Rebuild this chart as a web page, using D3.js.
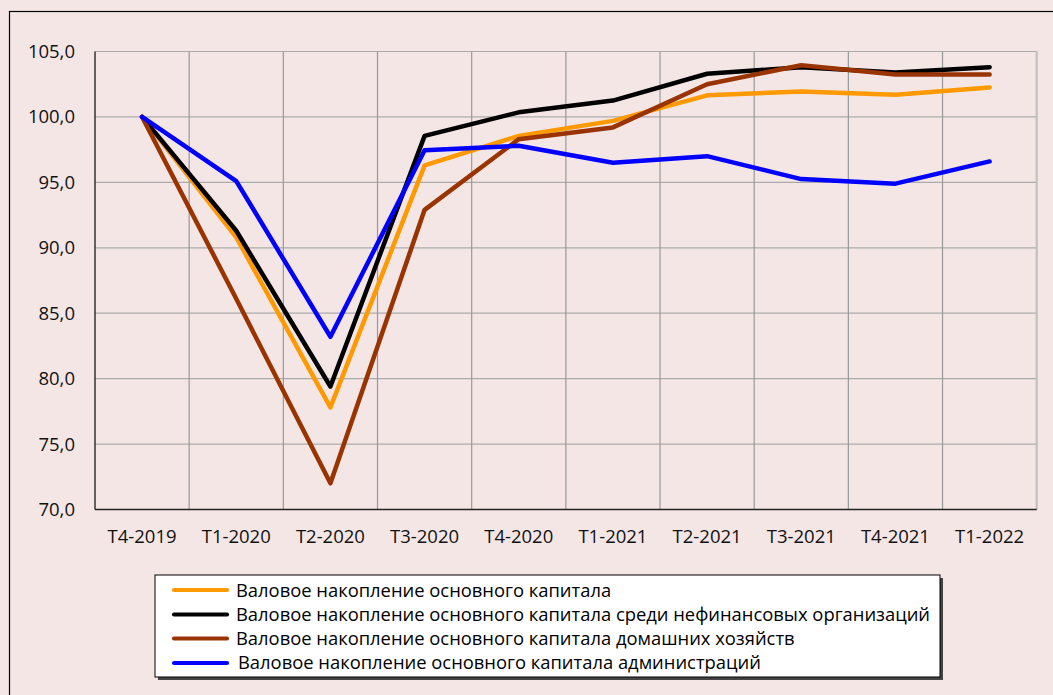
<!DOCTYPE html>
<html><head><meta charset="utf-8">
<script src="https://cdn.jsdelivr.net/npm/d3@7"></script>
<style>
html,body{margin:0;padding:0;background:#F5E6E6;}
svg{display:block;}
</style></head>
<body>
<svg id="c" width="1053" height="695"></svg>
<script>
const categories = ["T4-2019","T1-2020","T2-2020","T3-2020","T4-2020","T1-2021","T2-2021","T3-2021","T4-2021","T1-2022"];
const seriesNames = [
  "Валовое накопление основного капитала",
  "Валовое накопление основного капитала среди нефинансовых организаций",
  "Валовое накопление основного капитала домашних хозяйств",
  "Валовое накопление основного капитала администраций"
];
const totalValues      = [100, 90.8, 77.8, 96.3, 98.55, 99.7, 101.65, 101.95, 101.7, 102.25];
const nonFinValues     = [100, 91.3, 79.4, 98.55, 100.35, 101.25, 103.3, 103.8, 103.4, 103.8];
const householdValues  = [100, 86.1, 72.0, 92.9, 98.3, 99.2, 102.5, 103.95, 103.25, 103.25];
const adminValues      = [100, 95.1, 83.2, 97.45, 97.8, 96.5, 97.0, 95.25, 94.9, 96.6];
const yTicks = [70, 75, 80, 85, 90, 95, 100, 105];

const colors = ["#FF9900", "#000000", "#993300", "#0000FF"];
const series = [totalValues, nonFinValues, householdValues, adminValues];

const svg = d3.select("#c");
const FONT = "'Open Sans', 'Noto Sans', sans-serif";

// outer chart border
svg.append("rect").attr("x", 9.5).attr("y", 11.5).attr("width", 1200).attr("height", 900)
  .attr("fill", "#F5E6E6").attr("stroke", "#000").attr("stroke-width", 1.2);

const L = 95, R = 1036.7, T = 51.5, B = 509.5;
const x = d3.scaleBand().domain(categories).range([L, R]).padding(0);
const y = d3.scaleLinear().domain([70, 105]).range([B, T]);
const cx = c => x(c) + x.bandwidth() / 2;

// horizontal gridlines
svg.append("g").selectAll("line").data(yTicks.filter(v => v > 70)).join("line")
  .attr("x1", L).attr("x2", R).attr("y1", d => y(d)).attr("y2", d => y(d))
  .attr("stroke", "#ABABAB").attr("stroke-width", 1.2);
// vertical gridlines
svg.append("g").selectAll("line").data(categories.slice(1)).join("line")
  .attr("x1", d => x(d)).attr("x2", d => x(d)).attr("y1", T).attr("y2", B)
  .attr("stroke", "#999").attr("stroke-width", 1.2);
// right plot border
svg.append("line").attr("x1", R).attr("x2", R).attr("y1", T).attr("y2", B)
  .attr("stroke", "#BDBDBD").attr("stroke-width", 2);

// axes lines
svg.append("line").attr("x1", L).attr("x2", L).attr("y1", T).attr("y2", B)
  .attr("stroke", "#333").attr("stroke-width", 1.5);
svg.append("line").attr("x1", L).attr("x2", R).attr("y1", B).attr("y2", B)
  .attr("stroke", "#222").attr("stroke-width", 1.5);

// y tick labels
const fmt = v => d3.format(".1f")(v).replace(".", ",");
svg.append("g").selectAll("text").data(yTicks).join("text")
  .attr("x", 75).attr("y", d => y(d)).attr("dy", "0.35em")
  .attr("text-anchor", "end").attr("font-family", FONT).attr("font-size", 18.5)
  .attr("fill", "#111").text(fmt);
// x tick labels
svg.append("g").selectAll("text").data(categories).join("text")
  .attr("x", d => cx(d)).attr("y", 542.5)
  .attr("text-anchor", "middle").attr("font-family", FONT).attr("font-size", 18.5)
  .attr("fill", "#111").text(d => d);

// series lines
const line = d3.line().x((d, i) => cx(categories[i])).y(d => y(d));
svg.append("g").selectAll("path").data(series).join("path")
  .attr("d", d => line(d)).attr("fill", "none")
  .attr("stroke", (d, i) => colors[i]).attr("stroke-width", 4.5)
  .attr("stroke-linejoin", "round").attr("stroke-linecap", "round");

// legend
const lg = svg.append("g");
const lx = 155, ly = 575, lw = 785, lh = 102;
lg.append("rect").attr("x", lx + 3).attr("y", ly + 3).attr("width", lw).attr("height", lh).attr("fill", "#444");
lg.append("rect").attr("x", lx).attr("y", ly).attr("width", lw).attr("height", lh)
  .attr("fill", "#fff").attr("stroke", "#000").attr("stroke-width", 1);
const rowY = [590, 614.5, 638.5, 663];
const baseY = [596.7, 620.7, 645, 669.3];
seriesNames.forEach((name, i) => {
  lg.append("line").attr("x1", 174).attr("x2", 227).attr("y1", rowY[i]).attr("y2", rowY[i])
    .attr("stroke", colors[i]).attr("stroke-width", 4.2).attr("stroke-linecap", "round");
});
const texts = lg.selectAll("text.lt").data(seriesNames).join("text").attr("class", "lt")
  .attr("x", (d, i) => i === 3 ? 238 : 236).attr("y", (d, i) => baseY[i])
  .attr("font-family", FONT).attr("font-size", 18.5).attr("fill", "#000").text(d => d);
// condense to match reference width of the longest entry
const w2 = texts.nodes()[1].getComputedTextLength();
const ratio = 694 / w2;
texts.each(function () {
  const w = this.getComputedTextLength();
  d3.select(this).attr("textLength", w * ratio).attr("lengthAdjust", "spacingAndGlyphs");
});
</script>
</body></html>
